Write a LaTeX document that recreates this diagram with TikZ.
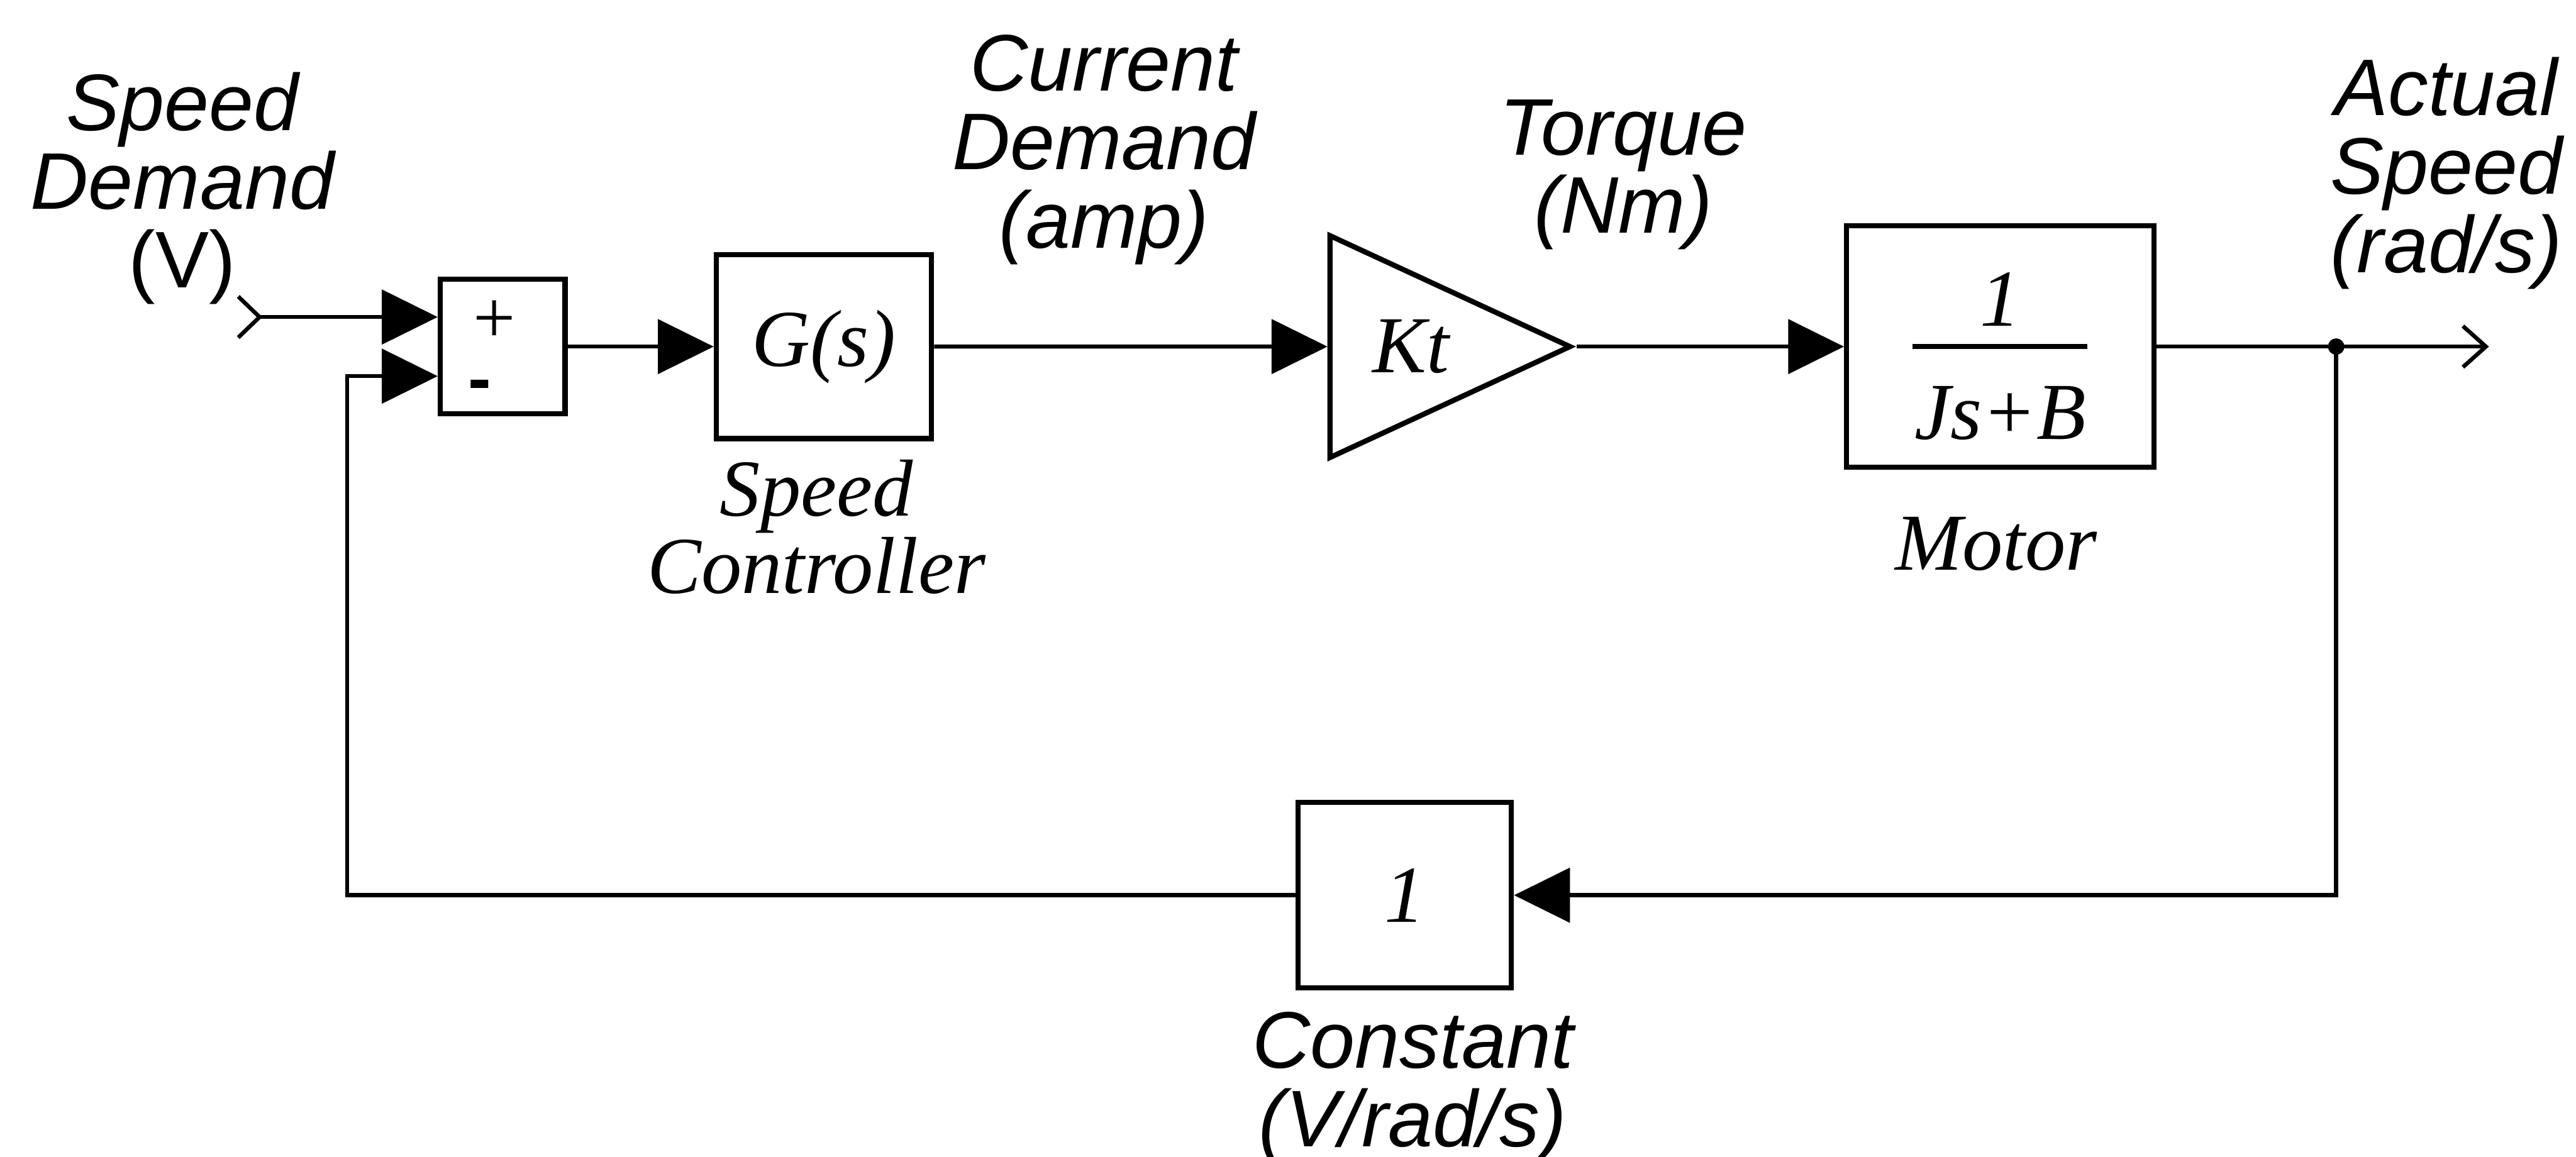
\documentclass[tikz,border=0pt]{standalone}
\usepackage{fontspec}
\setmainfont{Liberation Serif}
\setsansfont{Liberation Sans}
\usetikzlibrary{arrows.meta,shapes.geometric}

\begin{document}
\begin{tikzpicture}[>={Triangle[length=3.4mm,width=3.3mm]}, line width=0.7pt,
  blk/.style={draw, line width=0.9pt, inner sep=0pt},
  lbl/.style={font=\sffamily\itshape\fontsize{13.9}{13.6}\selectfont, align=center, inner sep=0pt},
  tf/.style={font=\itshape\fontsize{14}{13.4}\selectfont, inner sep=0pt}]
\useasboundingbox (0,2.11) rectangle (15.68,-4.93);
\node[blk, minimum width=0.76cm, minimum height=0.82cm] (sum) at (3.06,0) {};
\node[tf, font=\fontsize{13}{13}\selectfont] (plus) at ([xshift=-0.05cm,yshift=0.15cm]sum.center) {+};
\node[tf, font=\sffamily\bfseries\fontsize{12}{12}\selectfont] (minus) at ([xshift=-0.14cm,yshift=-0.27cm]sum.center) {-};
\node[blk, tf, minimum width=1.31cm, minimum height=1.12cm] (ctrl) at (5.015,0) {G(s)};
\node[blk, tf, isosceles triangle, isosceles triangle stretches, minimum width=1.35cm, minimum height=1.46cm, anchor=lower side] (kt) at (8.08,0) {\hspace{0.1cm}Kt};
\node[blk, minimum width=1.87cm, minimum height=1.47cm] (motor) at (12.175,0) {};
\node[tf, anchor=base] (num) at ([yshift=0.125cm]motor.center) {1};
\node[tf, anchor=base] (den) at ([yshift=-0.565cm]motor.center) {Js+B};
\draw[line width=0.9pt] ([xshift=-0.535cm]motor.center) -- ([xshift=0.53cm]motor.center);
\node[blk, tf, minimum width=1.30cm, minimum height=1.13cm] (const) at (8.55,-3.34) {1};
\coordinate (in) at (1.58,0.18);
\coordinate (dot) at (14.22,0);
\coordinate (out) at (15.15,0);
% signal path
\draw[->] (in) -- ([yshift=0.18cm]sum.west);
\draw ([shift={(-0.13,0.125)}]in) -- (in) -- ([shift={(-0.13,-0.125)}]in);
\draw[->] (sum) -- (ctrl);
\draw[->] (ctrl) -- (kt);
\draw[->] (kt.apex) -- (motor);
\draw[-{Straight Barb[length=1.4mm,width=2.5mm]}] (motor) -- (out);
\fill (dot) circle (0.05);
% feedback
\draw[->] (dot) |- (const);
\draw[->] (const) -| ([xshift=-0.55cm,yshift=-0.18cm]sum.west) -- ([yshift=-0.18cm]sum.west);
% labels
\node[lbl, anchor=base] (sdem) at (1.11,0.36) {Speed\\Demand\\{\upshape(V)}};
\node[lbl, anchor=base] (cdem) at (6.72,0.60) {Current\\Demand\\(amp)};
\node[lbl, anchor=base] (torq) at (9.88,0.69) {Torque\\(Nm)};
\node[lbl, anchor=base] (aspd) at (14.89,0.45) {Actual\\Speed\\(rad/s)};
\node[tf, align=center, anchor=base] (ctrllbl) at (4.97,-1.50) {Speed\\Controller};
\node[tf, anchor=base] (motlbl) at (12.15,-1.36) {Motor};
\node[lbl, anchor=base] (constlbl) at (8.60,-4.87) {Constant\\(V/rad/s)};
\end{tikzpicture}
\end{document}
